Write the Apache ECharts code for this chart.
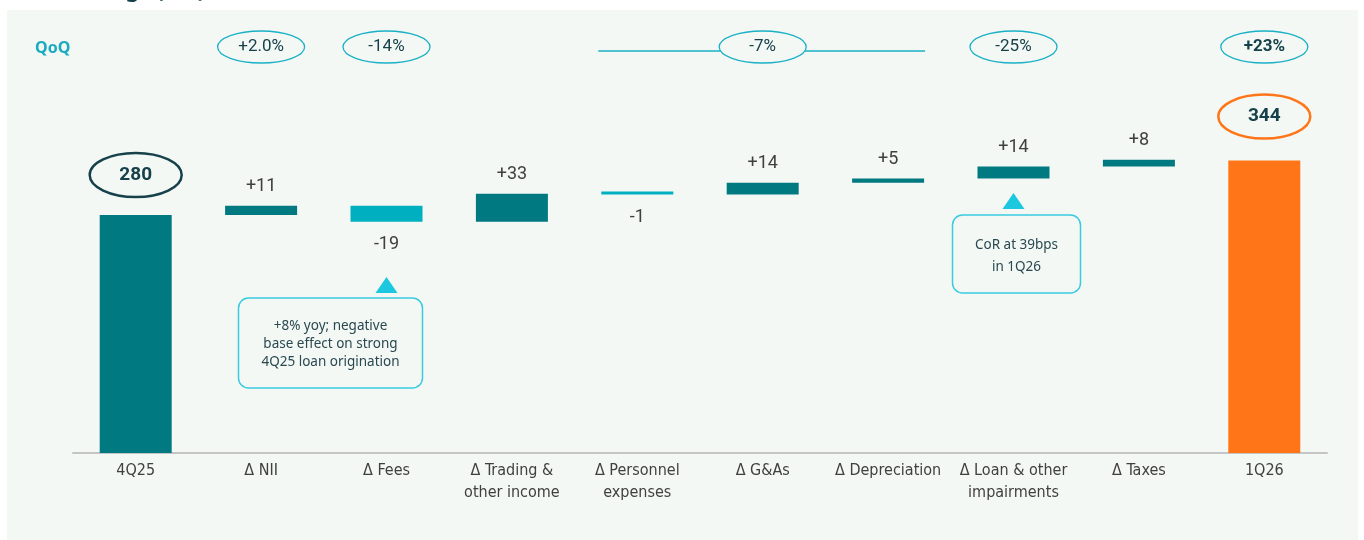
<!DOCTYPE html>
<html>
<head>
<meta charset="utf-8">
<script src="https://cdn.jsdelivr.net/npm/echarts@6/dist/echarts.min.js"></script>
<style>
    html, body { margin: 0; padding: 0; background: #fff; }
    #main { width: 1364px; height: 540px; }
</style>
</head>
<body>
<div id="main"></div>
<script>
// categories along the bridge
const categories = ['4Q25', 'Δ NII', 'Δ Fees', 'Δ Trading &\nother income', 'Δ Personnel\nexpenses',
    'Δ G&As', 'Δ Depreciation', 'Δ Loan & other\nimpairments', 'Δ Taxes', '1Q26'];
// start / end totals and the movements in between (€m)
const startTotal = 280;
const endTotal = 344;
const deltas = [null, 11, -19, 33, -1, 14, 5, 14, 8, null];
// QoQ bubbles on the top row
const qoqLabels = ['+2.0%', '-14%', '-7%', '-25%', '+23%'];
const qoqIndex = [1, 2, 5, 7, 9];
const qoqBold = [false, false, false, false, true];
// the -7% bubble covers personnel .. depreciation
const qoqSpan = [4, 6];
// callouts
const noteFees = '+8% yoy; negative\nbase effect on strong\n4Q25 loan origination';
const noteLoan = 'CoR at 39bps\nin 1Q26';

const TEAL = '#007A80';
const CYAN = '#00B0C1';
const ORANGE = '#FF7518';
const BG = '#F3F8F5';
const RING = '#1AB0C6';
const DARK = '#17414A';

// build invisible base + visible part of each step
const baseData = [];
const barData = [];
let running = startTotal;
for (let i = 0; i < categories.length; i++) {
    if (i === 0) {
        baseData.push(0);
        barData.push({ value: startTotal, itemStyle: { color: TEAL }, label: { show: false } });
    } else if (i === categories.length - 1) {
        baseData.push(0);
        barData.push({ value: endTotal, itemStyle: { color: ORANGE }, label: { show: false } });
    } else {
        const d = deltas[i];
        baseData.push(d >= 0 ? running : running + d);
        barData.push({
            value: Math.abs(d),
            itemStyle: { color: d >= 0 ? TEAL : CYAN },
            label: { show: true, position: d >= 0 ? 'top' : 'bottom', distance: d >= 0 ? 10 : 14 }
        });
        running += d;
    }
}

const chart = echarts.init(document.getElementById('main'));
const option = {
    backgroundColor: '#fff',
    animation: false,
    grid: { left: 73, right: 37, top: 113, bottom: 87 },
    xAxis: {
        type: 'category',
        data: categories,
        axisTick: { show: false },
        axisLine: { lineStyle: { color: '#C3C6C5', width: 2 } },
        axisLabel: {
            interval: 0,
            margin: 7,
            color: '#404040',
            fontSize: 16,
            lineHeight: 22,
            fontFamily: '"Liberation Sans Narrow", "DejaVu Sans Condensed", sans-serif'
        }
    },
    yAxis: { type: 'value', min: 0, max: 400, show: false, splitLine: { show: false } },
    series: [{
        type: 'bar',
        stack: 'w',
        barWidth: 72,
        silent: true,
        itemStyle: { color: 'transparent' },
        data: baseData
    }, {
        type: 'bar',
        stack: 'w',
        barWidth: 72,
        barMinHeight: 3,
        label: {
            color: '#404040',
            fontSize: 18,
            fontFamily: 'Roboto, sans-serif',
            formatter: function (p) {
                const d = deltas[p.dataIndex];
                return d > 0 ? '+' + d : String(d);
            }
        },
        data: barData
    }]
};
chart.setOption(option);

const px = i => chart.convertToPixel({ xAxisIndex: 0 }, categories[i]);
const py = v => chart.convertToPixel({ yAxisIndex: 0 }, v);

const g = [];
// panel background
g.push({ type: 'rect', z: -10, silent: true, shape: { x: 7, y: 10, width: 1351, height: 540 }, style: { fill: BG } });
// title, mostly cut off at the top
g.push({ type: 'text', x: 8, y: 2, style: { text: 'Net earnings (€m)', fill: DARK, font: 'bold 22px "Noto Sans", sans-serif', textAlign: 'left', textVerticalAlign: 'bottom' } });
g.push({ type: 'text', x: 35, y: 48, style: { text: 'QoQ', fill: '#1AABBF', font: 'bold 16px "Noto Sans", sans-serif', textAlign: 'left', textVerticalAlign: 'middle' } });

// bracket line for the -7% bubble
g.push({ type: 'line', z: 1, shape: { x1: px(qoqSpan[0]) - 39, y1: 51, x2: px(qoqSpan[1]) + 37, y2: 51 }, style: { stroke: RING, lineWidth: 1.3 } });

qoqLabels.forEach((t, k) => {
    const x = px(qoqIndex[k]);
    g.push({ type: 'ellipse', z: 2, shape: { cx: x, cy: 47, rx: 43.5, ry: 16 }, style: { fill: BG, stroke: RING, lineWidth: 1.3 } });
    g.push({ type: 'text', z: 3, x: x, y: 47, style: { text: t, fill: DARK, font: (qoqBold[k] ? 'bold ' : '') + '17px Roboto, sans-serif', textAlign: 'center', textVerticalAlign: 'middle' } });
});

// total bubbles
const totals = [[0, startTotal, DARK], [categories.length - 1, endTotal, ORANGE]];
totals.forEach(([i, v, c]) => {
    const x = px(i);
    const y = py(v) - (i === 0 ? 40 : 44);
    g.push({ type: 'ellipse', z: 2, shape: { cx: x, cy: y, rx: 46, ry: 22 }, style: { fill: 'none', stroke: c, lineWidth: 2.5 } });
    g.push({ type: 'text', z: 3, x: x, y: y, style: { text: String(v), fill: DARK, font: 'bold 19px Roboto, sans-serif', textAlign: 'center', textVerticalAlign: 'middle' } });
});

// callout under fees
const xf = px(2);
g.push({ type: 'polygon', shape: { points: [[xf - 11, 293], [xf + 11, 293], [xf, 277]] }, style: { fill: '#1CC8E0' } });
g.push({ type: 'rect', shape: { x: xf - 148, y: 298, width: 184, height: 90, r: 10 }, style: { fill: BG, stroke: '#3ACBE0', lineWidth: 1.5 } });
g.push({ type: 'text', x: xf - 56, y: 344, style: { text: noteFees, fill: '#2A4850', font: '13.5px "Noto Sans", sans-serif', lineHeight: 18, textAlign: 'center', textVerticalAlign: 'middle' } });

// callout under loan impairments
const xl = px(7);
g.push({ type: 'polygon', shape: { points: [[xl - 11, 209], [xl + 11, 209], [xl, 193]] }, style: { fill: '#1CC8E0' } });
g.push({ type: 'rect', shape: { x: xl - 61, y: 215, width: 128, height: 78, r: 10 }, style: { fill: BG, stroke: '#3ACBE0', lineWidth: 1.5 } });
g.push({ type: 'text', x: xl + 3, y: 256, style: { text: noteLoan, fill: '#2A4850', font: '13.5px "Noto Sans", sans-serif', lineHeight: 22, textAlign: 'center', textVerticalAlign: 'middle' } });

chart.setOption({ graphic: { elements: g } });
</script>
</body>
</html>
